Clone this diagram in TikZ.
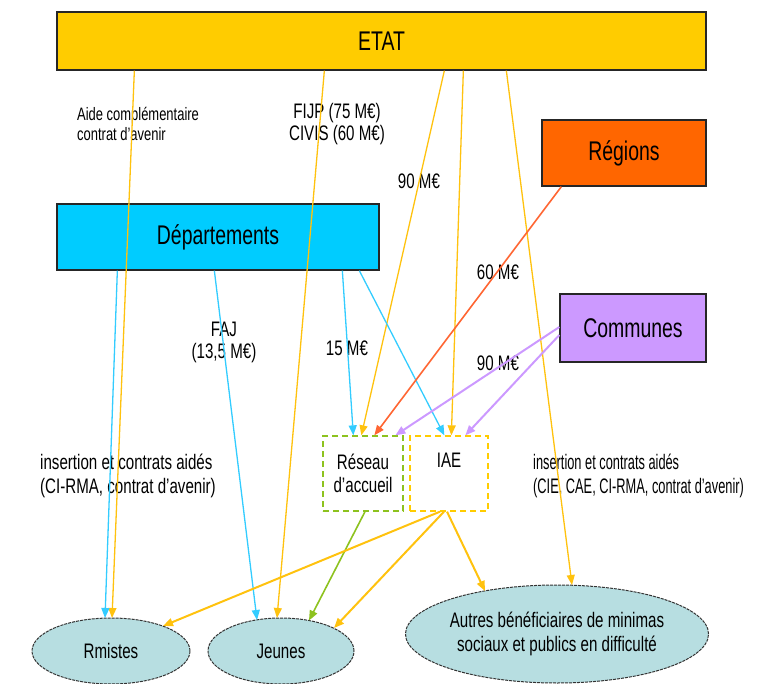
\documentclass[tikz,border=0pt]{standalone}
\usepackage{fontspec}
\setmainfont[FakeStretch=0.72]{Liberation Sans}
\newfontfamily\narrowfont[FakeStretch=0.61]{Liberation Sans}
\usetikzlibrary{arrows.meta,shadows}
\definecolor{etatc}{HTML}{FFCC00}
\definecolor{regc}{HTML}{FF6600}
\definecolor{depc}{HTML}{00CCFF}
\definecolor{comc}{HTML}{CC99FF}
\definecolor{ellc}{HTML}{B7DEE1}
\definecolor{ylin}{HTML}{FFC20E}
\definecolor{blin}{HTML}{33CCFF}
\definecolor{olin}{HTML}{FF6633}
\definecolor{plin}{HTML}{CC99FF}
\definecolor{glin}{HTML}{8DC21F}
\tikzset{
  bigbox/.style={draw=black!85, line width=1.3pt, inner sep=0pt, font=\fontsize{27}{30}\selectfont,
    drop shadow={shadow xshift=1.2pt, shadow yshift=-1.2pt, fill=black!35}},
  dbox/.style={dashed, dash pattern=on 6pt off 4pt, line width=1.3pt, inner sep=0pt, align=center,
    font=\fontsize{21}{23}\selectfont},
  ell/.style={ellipse, draw=black!80, dashed, dash pattern=on 3pt off 1pt, line width=1pt, fill=ellc,
    inner sep=0pt, align=center, font=\fontsize{21}{24}\selectfont},
  lab/.style={inner sep=0pt, font=\fontsize{21}{22}\selectfont},
  tip/.style={-{Triangle[length=10pt,width=8pt]}},
  yarr/.style={tip, draw=ylin, line width=1.3pt},
  yarrb/.style={tip, draw=ylin, line width=2pt},
  barr/.style={tip, draw=blin, line width=1.3pt},
}
\usetikzlibrary{shapes.geometric}
\begin{document}
\begin{tikzpicture}[x=1pt,y=-1pt]
\useasboundingbox (0,0) rectangle (760,684);
% boxes
\node[bigbox, fill=etatc, minimum width=649pt, minimum height=58pt] (etat) at (381.5,41) {ETAT};
\node[bigbox, fill=regc, minimum width=164pt, minimum height=66pt] (reg) at (624,153) {Régions};
\node[bigbox, fill=depc, minimum width=322pt, minimum height=66pt] (dep) at (218,237) {Départements};
\node[bigbox, fill=comc, minimum width=146pt, minimum height=68pt] (com) at (633,328) {Communes};
\node[dbox, draw=glin, minimum width=80pt, minimum height=75pt] (res) at (363,473.5) {Réseau\\d’accueil};
\node[dbox, draw=etatc, minimum width=78pt, minimum height=75pt] (iae) at (449,473.5) {IAE\\[3pt]};
% ellipses
\node[ell, minimum width=158pt, minimum height=66pt] (rmi) at (111,651) {Rmistes};
\node[ell, minimum width=146pt, minimum height=66pt] (jeu) at (281,651) {Jeunes};
\node[ell, minimum width=298pt, minimum height=98pt] (aut) at (557,634) {Autres bénéficiaires de minimas\\sociaux et publics en difficulté};
% labels
\node[inner sep=0pt, anchor=west, align=left, font=\fontsize{18}{20}\selectfont] (l1) at (77,124) {Aide complémentaire\\contrat d’avenir};
\node[lab, align=center] (l2) at (337,124) {FIJP (75 M€)\\CIVIS (60 M€)};
\node[lab] (l3) at (419,181) {90 M€};
\node[lab] (l4) at (498,272) {60 M€};
\node[lab, align=center] (l5) at (224,342) {FAJ\\(13,5 M€)};
\node[lab] (l6) at (347,348) {15 M€};
\node[lab] (l7) at (498,363) {90 M€};
\node[lab, anchor=west, align=left, font=\fontsize{21}{24}\selectfont] (l8) at (40,476) {insertion et contrats aidés\\(CI-RMA, contrat d’avenir)};
\node[lab, anchor=west, align=left, font=\narrowfont\fontsize{21}{24}\selectfont] (l9) at (533,476) {insertion et contrats aidés\\(CIE, CAE, CI-RMA, contrat d’avenir)};
% ETAT arrows
\draw[yarr] ([xshift=78pt]etat.south west) -- ([shift={(1,-33)}]rmi.center);
\draw[yarr] ([xshift=268pt]etat.south west) -- ([shift={(-4,-33)}]jeu.center);
\draw[yarr] ([xshift=388pt]etat.south west) -- ([xshift=39pt]res.north west);
\draw[yarr] ([xshift=407pt]etat.south west) -- ([xshift=42pt]iae.north west);
\draw[yarr] ([xshift=450pt]etat.south west) -- ([shift={(15,-49)}]aut.center);
% Departements arrows
\draw[barr] ([xshift=61pt]dep.south west) -- ([shift={(-6,-33)}]rmi.center);
\draw[barr] ([xshift=158pt]dep.south west) -- ([shift={(-24,-31)}]jeu.center);
\draw[barr] ([xshift=286pt]dep.south west) -- ([xshift=31pt]res.north west);
\draw[barr] ([xshift=303pt]dep.south west) -- ([xshift=35pt]iae.north west);
% Regions
\draw[tip, draw=olin, line width=1.6pt] ([xshift=20pt]reg.south west) -- ([xshift=52pt]res.north west);
% Communes
\draw[tip, draw=plin, line width=2pt] ([yshift=1pt]com.west) -- ([xshift=73pt]res.north west);
\draw[tip, draw=plin, line width=2pt] ([yshift=-7pt]com.west) -- ([xshift=56pt]iae.north west);
% from Reseau and IAE
\draw[tip, draw=glin, line width=1.6pt] ([xshift=2pt]res.south) -- ([shift={(28,-30.5)}]jeu.center);
\draw[yarrb] ([xshift=-9pt]iae.south) -- ([shift={(52,-25)}]rmi.center);
\draw[yarrb] ([xshift=-5pt]iae.south) -- ([shift={(53,-23)}]jeu.center);
\draw[yarrb] ([xshift=-2pt]iae.south) -- ([shift={(-72,-43)}]aut.center);
\end{tikzpicture}
\end{document}
